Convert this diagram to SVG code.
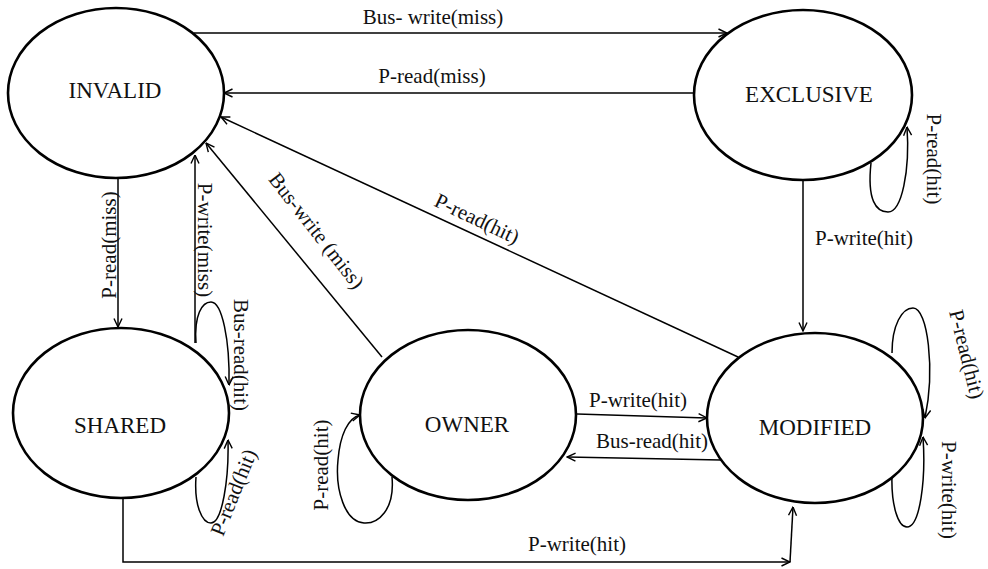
<svg xmlns="http://www.w3.org/2000/svg" width="988" height="569" viewBox="0 0 988 569">
<defs>
<marker id="arr" viewBox="0 0 10 10" refX="9.5" refY="5" markerWidth="10" markerHeight="10" markerUnits="userSpaceOnUse" orient="auto">
<path d="M1,1 L9.5,5 L1,9" fill="none" stroke="#000" stroke-width="1.4"/>
</marker>
</defs>
<style>
.node ellipse{fill:#fff;stroke:#000;stroke-width:2.6}
.node text{font-size:23px;fill:#111;text-anchor:middle}
.edge path{fill:none;stroke:#000;stroke-width:1.5;marker-end:url(#arr)}
.lbl{font-size:21px;fill:#111;text-anchor:middle}
</style>
<rect width="988" height="569" fill="#fff"/>

<g id="connectors" class="edge">
<path d="M194,33 L727,33"/>
<path d="M695,93 L224,93"/>
<path d="M738,357 L221,117"/>
<path d="M382,357 L206,143"/>
<path d="M118,179 L118,327"/>
<path d="M195,343 L195,155"/>
<path d="M196,343 C194,315 202,302 211,302 C222,302 230,340 229,385"/>
<path d="M196,477 C194,505 202,523 211,523 C222,523 229,480 228,440"/>
<path d="M392,477 C395,510 378,524 364,523 C345,522 335,490 338,460 C340,435 348,418 360,415"/>
<path d="M577,414 L707,418"/>
<path d="M721,460 L567,457"/>
<path d="M123,498 L123,562 L790,562"/>
<path d="M790,562 L793,507"/>
<path d="M803,180 L803,331"/>
<path d="M871,163 C867,200 876,212 888,212 C902,212 910,170 907,127"/>
<path d="M892,353 C892,325 902,308 913,308 C928,308 935,370 925,418"/>
<path d="M892,475 C891,505 898,527 907,527 C920,527 926,480 923,437"/>
</g>

<g id="edge-labels" font-family="'Liberation Serif', 'DejaVu Serif', serif">
<text class="lbl" x="433" y="24">Bus- write(miss)</text>
<text class="lbl" x="432" y="83">P-read(miss)</text>
<text class="lbl" transform="translate(474,225) rotate(25.5)">P-read(hit)</text>
<text class="lbl" transform="translate(311,235) rotate(52)">Bus-write (miss)</text>
<text class="lbl" transform="translate(116,245) rotate(-90)">P-read(miss)</text>
<text class="lbl" transform="translate(198,240) rotate(90)">P-write(miss)</text>
<text class="lbl" transform="translate(234,355) rotate(90)">Bus-read(hit)</text>
<text class="lbl" transform="translate(240,495) rotate(-68)">P-read(hit)</text>
<text class="lbl" transform="translate(328,465) rotate(-90)">P-read(hit)</text>
<text class="lbl" x="638" y="407">P-write(hit)</text>
<text class="lbl" x="652" y="448">Bus-read(hit)</text>
<text class="lbl" x="577" y="551">P-write(hit)</text>
<text class="lbl" x="864" y="245">P-write(hit)</text>
<text class="lbl" transform="translate(927,159) rotate(90)">P-read(hit)</text>
<text class="lbl" transform="translate(960,356) rotate(76)">P-read(hit)</text>
<text class="lbl" transform="translate(942,490) rotate(90)">P-write(hit)</text>
</g>

<g font-family="'Liberation Serif', 'DejaVu Serif', serif">
<g id="invalid" class="node"><ellipse cx="116" cy="93" rx="108" ry="85"/><text x="115" y="98">INVALID</text></g>
<g id="exclusive" class="node"><ellipse cx="803" cy="95" rx="109" ry="85"/><text x="809" y="102">EXCLUSIVE</text></g>
<g id="shared" class="node"><ellipse cx="121" cy="413" rx="108" ry="85"/><text x="120" y="433">SHARED</text></g>
<g id="owner" class="node"><ellipse cx="468" cy="415" rx="108" ry="85"/><text x="467" y="432">OWNER</text></g>
<g id="modified" class="node"><ellipse cx="815" cy="418" rx="108" ry="85"/><text x="815" y="435">MODIFIED</text></g>
</g>
</svg>
